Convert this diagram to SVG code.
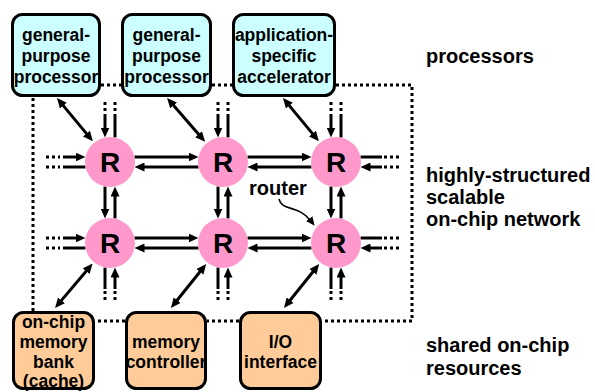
<svg xmlns="http://www.w3.org/2000/svg" width="595" height="392" viewBox="0 0 595 392">
<style>
text{font-family:"Liberation Sans",Arial,sans-serif;font-weight:bold;fill:#000}
.bt{font-size:17.5px;text-anchor:middle}
.lbl{font-size:20px}
.rt{font-size:28px;text-anchor:middle}
.proc{fill:#CCFFFF;stroke:#000;stroke-width:3}
.res{fill:#FFCC99;stroke:#000;stroke-width:3}
.rtr{fill:#FF99CC}
.dot{fill:none;stroke:#000;stroke-width:3;stroke-dasharray:3 3}
.ln{fill:none;stroke:#000;stroke-width:3}
.ah{fill:none;stroke:#000;stroke-width:3;marker-end:url(#arr)}
.dh{fill:none;stroke:#000;stroke-width:3;marker-start:url(#arr);marker-end:url(#arr)}
.cv{fill:none;stroke:#000;stroke-width:1.6;marker-end:url(#arrs)}
</style>
<defs>
<marker id="arr" markerUnits="userSpaceOnUse" markerWidth="10" markerHeight="9" refX="4" refY="4.5" orient="auto-start-reverse" viewBox="0 0 10 9">
<path d="M0,0 L10,4.5 L0,9 z" fill="#000"/>
</marker>
<marker id="arrs" markerUnits="userSpaceOnUse" markerWidth="9" markerHeight="8" refX="3" refY="4" orient="auto" viewBox="0 0 9 8">
<path d="M0,0 L9,4 L0,8 z" fill="#000"/>
</marker>
</defs>

<!-- dotted chip boundary -->
<g id="boundary">
<path class="dot" d="M101,85 H121 M212,85 H232 M336,85 H412 V321 H322 M239,321 H207 M125,321 H95 M33,98 V311"/>
</g>

<g id="connectors">
<!-- row 1 horizontal -->
<path class="dot" d="M46,157 H60 M46,167 H60 M384,157 H399 M384,167 H399"/>
<path class="ah" d="M63,157 H79.5"/>
<path class="ln" d="M63,167 H85.5"/>
<path class="ah" d="M134.5,157 H192.5"/>
<path class="ah" d="M198.5,167 H140.5"/>
<path class="ah" d="M247.5,157 H305.5"/>
<path class="ah" d="M311.5,167 H253.5"/>
<path class="ln" d="M360.5,157 H382"/>
<path class="ah" d="M382,167 H366.5"/>
<!-- row 2 horizontal -->
<path class="dot" d="M46,238 H60 M46,248 H60 M384,238 H399 M384,248 H399"/>
<path class="ah" d="M63,238 H79.5"/>
<path class="ln" d="M63,248 H85.5"/>
<path class="ah" d="M134.5,238 H192.5"/>
<path class="ah" d="M198.5,248 H140.5"/>
<path class="ah" d="M247.5,238 H305.5"/>
<path class="ah" d="M311.5,248 H253.5"/>
<path class="ln" d="M360.5,238 H382"/>
<path class="ah" d="M382,248 H366.5"/>
<!-- verticals: columns 110, 223, 336 -->
<path class="dot" d="M105,102 V112 M115,102 V112 M218,102 V112 M228,102 V112 M331,102 V112 M341,102 V112 M105,291 V302 M115,291 V302 M218,291 V302 M228,291 V302 M331,291 V302 M341,291 V302"/>
<path class="ah" d="M105,114 V131.5"/>
<path class="ln" d="M115,137.5 V114"/>
<path class="ah" d="M218,114 V131.5"/>
<path class="ln" d="M228,137.5 V114"/>
<path class="ah" d="M331,114 V131.5"/>
<path class="ln" d="M341,137.5 V114"/>
<path class="ah" d="M105,186.5 V212.5"/>
<path class="ah" d="M115,218.5 V192.5"/>
<path class="ah" d="M218,186.5 V212.5"/>
<path class="ah" d="M228,218.5 V192.5"/>
<path class="ah" d="M331,186.5 V212.5"/>
<path class="ah" d="M341,218.5 V192.5"/>
<path class="ln" d="M105,267.5 V289"/>
<path class="ah" d="M115,289 V273.5"/>
<path class="ln" d="M218,267.5 V289"/>
<path class="ah" d="M228,289 V273.5"/>
<path class="ln" d="M331,267.5 V289"/>
<path class="ah" d="M341,289 V273.5"/>
<!-- diagonal links to processors and resources -->
<path class="dh" d="M60.8,102.6 L89,136.6"/>
<path class="dh" d="M171,102.5 L201.2,137.2"/>
<path class="dh" d="M286.8,102.6 L315,136.6"/>
<path class="dh" d="M88.7,268.2 L58.9,303.4"/>
<path class="dh" d="M202.4,268.8 L174.7,303.3"/>
<path class="dh" d="M315.4,268.8 L287.7,303.3"/>
<!-- router label pointer -->
<path class="cv" d="M279,199 C282,212 298,204 311,221"/>
</g>

<g id="proc1"><rect class="proc" x="12.5" y="14.5" width="87" height="81" rx="10"/>
<text class="bt" x="56" y="41">general-</text><text class="bt" x="56" y="62">purpose</text><text class="bt" x="56" y="83">processor</text></g>
<g id="proc2"><rect class="proc" x="122.5" y="14.5" width="88" height="81" rx="10"/>
<text class="bt" x="166.5" y="41">general-</text><text class="bt" x="166.5" y="62">purpose</text><text class="bt" x="166.5" y="83">processor</text></g>
<g id="proc3"><rect class="proc" x="233.5" y="14.5" width="101" height="81" rx="10"/>
<text class="bt" x="284" y="41">application-</text><text class="bt" x="284" y="62">specific</text><text class="bt" x="284" y="83">accelerator</text></g>

<g id="r11"><circle class="rtr" cx="110" cy="162" r="25"/><text class="rt" x="110" y="172">R</text></g>
<g id="r12"><circle class="rtr" cx="223" cy="162" r="25"/><text class="rt" x="223" y="172">R</text></g>
<g id="r13"><circle class="rtr" cx="336" cy="162" r="25"/><text class="rt" x="336" y="172">R</text></g>
<g id="r21"><circle class="rtr" cx="110" cy="243" r="25"/><text class="rt" x="110" y="253">R</text></g>
<g id="r22"><circle class="rtr" cx="223" cy="243" r="25"/><text class="rt" x="223" y="253">R</text></g>
<g id="r23"><circle class="rtr" cx="336" cy="243" r="25"/><text class="rt" x="336" y="253">R</text></g>

<g id="mem"><rect class="res" x="13.5" y="312.5" width="80" height="76" rx="10"/>
<text class="bt" x="53.5" y="328">on-chip</text><text class="bt" x="53.5" y="348">memory</text><text class="bt" x="53.5" y="368">bank</text><text class="bt" x="53.5" y="387">(cache)</text></g>
<g id="memctl"><rect class="res" x="126.5" y="312.5" width="79" height="76" rx="10"/>
<text class="bt" x="166" y="348">memory</text><text class="bt" x="166" y="368">controller</text></g>
<g id="io"><rect class="res" x="240.5" y="312.5" width="80" height="76" rx="10"/>
<text class="bt" x="280.5" y="348">I/O</text><text class="bt" x="280.5" y="368">interface</text></g>

<g id="labels">
<text class="lbl" x="249" y="195">router</text>
<text class="lbl" x="426" y="63">processors</text>
<text class="lbl" x="426" y="182">highly-structured</text>
<text class="lbl" x="426" y="204">scalable</text>
<text class="lbl" x="426" y="226">on-chip network</text>
<text class="lbl" x="426" y="352">shared on-chip</text>
<text class="lbl" x="426" y="375">resources</text>
</g>
</svg>
